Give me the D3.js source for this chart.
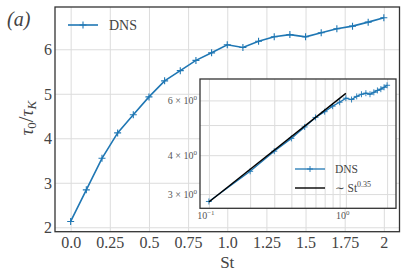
<!DOCTYPE html>
<html>
<head>
<meta charset="utf-8">
<script src="https://cdn.jsdelivr.net/npm/d3@7"></script>
<style>
body { margin: 0; background: #fff; }
text { font-family: "Liberation Serif", "DejaVu Serif", serif; }
</style>
</head>
<body>
<div id="viz"></div>
<script>
// data
var stokes = [0, 0.1, 0.2, 0.3, 0.4, 0.5, 0.6, 0.7, 0.8, 0.9, 1.0, 1.1, 1.2, 1.3, 1.4, 1.5, 1.6, 1.7, 1.8, 1.9, 2.0];
var tau = [2.13, 2.84, 3.55, 4.12, 4.53, 4.93, 5.29, 5.52, 5.75, 5.92, 6.10, 6.04, 6.18, 6.28, 6.33, 6.28, 6.37, 6.46, 6.52, 6.61, 6.71];
var fitSt = [0.1, 1.0];
var fitTau = [2.83, 6.32];

var xTicks = [0, 0.25, 0.5, 0.75, 1, 1.25, 1.5, 1.75, 2];
var xTickLabels = ["0.0", "0.25", "0.5", "0.75", "1.0", "1.25", "1.5", "1.75", "2"];
var yTicks = [2, 3, 4, 5, 6];
var insetXGrid = [0.1, 0.2, 0.3, 0.4, 0.5, 0.6, 0.7, 0.8, 0.9, 1, 2];
var insetXLabels = [[0.1, "−1"], [1, "0"]];
var insetYGrid = [3, 4, 5, 6];
var insetYLabels = [[3, "3"], [4, "4"], [6, "6"]];

var w = 408, h = 279;
var blue = "#1f77b4", gridCol = "#dcdcdc", spineCol = "#333", textCol = "#444";

var svg = d3.select("#viz").append("svg")
    .attr("width", w)
    .attr("height", h);

// main axes box
var mL = 55, mR = 399.5, mT = 7, mB = 231.7;

var x = d3.scaleLinear().domain([-0.1, 2.1]).range([mL, mR]);
var y = d3.scaleLinear().domain([1.9, 6.95]).range([mB, mT]);

// grid
svg.append("g")
    .attr("transform", "translate(0," + mB + ")")
    .call(d3.axisBottom(x).tickValues(xTicks).tickSize(-(mB - mT)).tickFormat(""))
    .call(g => g.select(".domain").remove())
    .selectAll("line").attr("stroke", gridCol).attr("stroke-width", 1);

svg.append("g")
    .attr("transform", "translate(" + mL + ",0)")
    .call(d3.axisLeft(y).tickValues(yTicks).tickSize(-(mR - mL)).tickFormat(""))
    .call(g => g.select(".domain").remove())
    .selectAll("line").attr("stroke", gridCol).attr("stroke-width", 1);

// tick labels
var xAx = svg.append("g")
    .attr("transform", "translate(0," + mB + ")")
    .call(d3.axisBottom(x).tickValues(xTicks).tickSize(0).tickFormat((d, i) => xTickLabels[i]));
xAx.select(".domain").remove();
xAx.selectAll("text").attr("y", 16.5).attr("dy", 0)
    .style("font-size", "16px").attr("fill", textCol).style("font-family", '"Liberation Serif", serif');

var yAx = svg.append("g")
    .attr("transform", "translate(" + mL + ",0)")
    .call(d3.axisLeft(y).tickValues(yTicks).tickSize(0).tickPadding(3).tickFormat(d3.format("d")));
yAx.select(".domain").remove();
yAx.selectAll("text").attr("dy", "0.34em")
    .style("font-size", "16px").attr("fill", textCol).style("font-family", '"Liberation Serif", serif');

// main curve
var line = d3.line().x((d, i) => x(stokes[i])).y(d => y(d));
svg.append("path")
    .datum(tau)
    .attr("d", line)
    .attr("fill", "none")
    .attr("stroke", blue)
    .attr("stroke-width", 1.6);

function plus(g, size, sw) {
    return g.append("path")
        .attr("d", "M" + (-size) + ",0H" + size + "M0," + (-size) + "V" + size)
        .attr("stroke", blue)
        .attr("stroke-width", sw);
}

svg.append("g").selectAll("g")
    .data(tau)
    .enter().append("g")
    .attr("transform", (d, i) => "translate(" + x(stokes[i]) + "," + y(d) + ")")
    .each(function() { plus(d3.select(this), 3.5, 1.1); });

// legend main
var lg = svg.append("g");
lg.append("line").attr("x1", 68).attr("x2", 98).attr("y1", 25).attr("y2", 25)
    .attr("stroke", blue).attr("stroke-width", 1.6);
plus(lg.append("g").attr("transform", "translate(83,25)"), 3.5, 1.1);
lg.append("text").attr("x", 109).attr("y", 30)
    .style("font-size", "14px").attr("fill", textCol).text("DNS");

// spines
svg.append("rect")
    .attr("x", mL).attr("y", mT)
    .attr("width", mR - mL).attr("height", mB - mT)
    .attr("fill", "none").attr("stroke", spineCol).attr("stroke-width", 1.3);

// labels
svg.append("text")
    .attr("x", x(1)).attr("y", 268)
    .attr("text-anchor", "middle")
    .style("font-size", "17px").attr("fill", textCol)
    .text("St");

var yl = svg.append("text")
    .attr("transform", "translate(33," + y(4.45) + ") rotate(-90)")
    .attr("text-anchor", "middle")
    .style("font-size", "19px").attr("fill", textCol);
yl.append("tspan").style("font-style", "italic").text("τ");
yl.append("tspan").attr("dy", 3).style("font-size", "13px").text("0");
yl.append("tspan").attr("dy", -3).style("font-size", "21px").text("/");
yl.append("tspan").style("font-style", "italic").text("τ");
yl.append("tspan").attr("dy", 3).style("font-size", "13px").style("font-style", "italic").text("K");

svg.append("text")
    .attr("x", 7).attr("y", 26)
    .style("font-size", "20px").style("font-style", "italic").attr("fill", textCol)
    .text("(a)");

// inset
var iL = 200, iR = 396, iT = 79, iB = 208.3;
var xi = d3.scaleLog().domain([Math.pow(10, -1.065), Math.pow(10, 0.366)]).range([iL, iR]);
var yi = d3.scaleLog().domain([2.70, 7.03]).range([iB, iT]);

var inset = svg.append("g");
inset.append("rect")
    .attr("x", iL).attr("y", iT)
    .attr("width", iR - iL).attr("height", iB - iT)
    .attr("fill", "#fff");

inset.append("g")
    .attr("transform", "translate(0," + iB + ")")
    .call(d3.axisBottom(xi).tickValues(insetXGrid).tickSize(-(iB - iT)).tickFormat(""))
    .call(g => g.select(".domain").remove())
    .selectAll("line").attr("stroke", gridCol).attr("stroke-width", 1);

inset.append("g")
    .attr("transform", "translate(" + iL + ",0)")
    .call(d3.axisLeft(yi).tickValues(insetYGrid).tickSize(-(iR - iL)).tickFormat(""))
    .call(g => g.select(".domain").remove())
    .selectAll("line").attr("stroke", gridCol).attr("stroke-width", 1);

// inset tick labels
var ixl = inset.selectAll("text.ix")
    .data(insetXLabels)
    .enter().append("text")
    .attr("class", "ix")
    .attr("x", d => xi(d[0]) - 3)
    .attr("y", 219)
    .attr("text-anchor", "middle")
    .style("font-size", "10px").attr("fill", "#555");
ixl.append("tspan").text("10");
ixl.append("tspan").attr("dy", -4).style("font-size", "7px").text(d => d[1]);

var iyl = inset.selectAll("text.iy")
    .data(insetYLabels)
    .enter().append("text")
    .attr("class", "iy")
    .attr("x", iL - 3)
    .attr("y", d => yi(d[0]) + 3.5)
    .attr("text-anchor", "end")
    .style("font-size", "10px").attr("fill", "#555");
iyl.append("tspan").text(d => d[1] + " × 10");
iyl.append("tspan").attr("dy", -4).style("font-size", "7px").text("0");

// inset DNS curve (St > 0 only)
var insetIdx = d3.range(1, stokes.length);
var iline = d3.line().x(i => xi(stokes[i])).y(i => yi(tau[i]));
inset.append("path")
    .datum(insetIdx)
    .attr("d", iline)
    .attr("fill", "none")
    .attr("stroke", blue)
    .attr("stroke-width", 1.3);

inset.append("g").selectAll("g")
    .data(insetIdx)
    .enter().append("g")
    .attr("transform", i => "translate(" + xi(stokes[i]) + "," + yi(tau[i]) + ")")
    .each(function() { plus(d3.select(this), 3, 0.9); });

// power law fit
inset.append("path")
    .datum(fitSt)
    .attr("d", d3.line().x(d => xi(d)).y((d, i) => yi(fitTau[i])))
    .attr("fill", "none")
    .attr("stroke", "#000")
    .attr("stroke-width", 1.4);

// inset legend
var ilg = inset.append("g");
ilg.append("line").attr("x1", 295).attr("x2", 325).attr("y1", 169).attr("y2", 169)
    .attr("stroke", blue).attr("stroke-width", 1.3);
plus(ilg.append("g").attr("transform", "translate(310,169)"), 3, 0.9);
ilg.append("text").attr("x", 335).attr("y", 173)
    .style("font-size", "11.5px").attr("fill", textCol).text("DNS");
ilg.append("line").attr("x1", 295).attr("x2", 325).attr("y1", 188).attr("y2", 188)
    .attr("stroke", "#000").attr("stroke-width", 1.4);
var ft = ilg.append("text").attr("x", 335).attr("y", 192)
    .style("font-size", "11.5px").attr("fill", textCol);
ft.append("tspan").text("∼ St");
ft.append("tspan").attr("dy", -5).style("font-size", "8px").text("0.35");

inset.append("rect")
    .attr("x", iL).attr("y", iT)
    .attr("width", iR - iL).attr("height", iB - iT)
    .attr("fill", "none").attr("stroke", spineCol).attr("stroke-width", 1.3);
</script>
</body>
</html>
